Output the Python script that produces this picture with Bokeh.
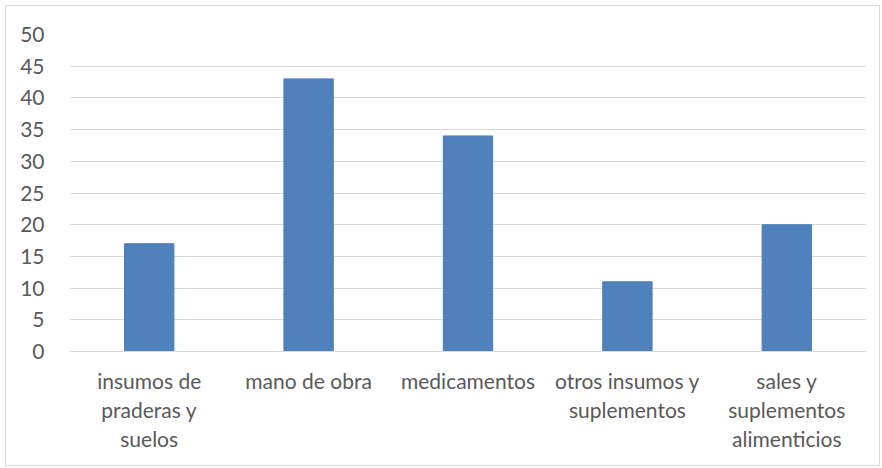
from bokeh.plotting import figure
from bokeh.models import Range1d, FactorRange, FixedTicker, CategoricalAxis, CustomJSTickFormatter
from bokeh.embed import file_html
from bokeh.resources import INLINE

categories = ["insumos de praderas y suelos", "mano de obra", "medicamentos",
              "otros insumos y suplementos", "sales y suplementos alimenticios"]
tick_lines = [["insumos de", "praderas y", "suelos"], ["mano de obra"], ["medicamentos"],
              ["otros insumos y", "suplementos"], ["sales y", "suplementos", "alimenticios"]]
values = [17, 43, 34, 11, 20]
y_ticks = [0, 5, 10, 15, 20, 25, 30, 35, 40, 45, 50]

FONT = "Lato"
FS = "21px"
GRAY = "#595959"

p = figure(width=875, height=461, output_backend="svg", toolbar_location=None,
           x_range=FactorRange(*categories, range_padding=0), y_range=Range1d(0, 50),
           min_border_left=63, min_border_right=15, min_border_top=28, min_border_bottom=116)
p.margin = (5, 0, 0, 5)
p.styles = {"border": "1px solid #d9d9d9"}
p.outline_line_color = None
p.background_fill_color = "white"
p.border_fill_color = "white"

p.vbar(x=categories, top=values, width=0.31, color="#4F81BD")

p.yaxis.ticker = FixedTicker(ticks=y_ticks)
p.yaxis.axis_line_color = None
p.yaxis.major_tick_line_color = None
p.yaxis.minor_tick_line_color = None
p.yaxis.major_label_text_font = FONT
p.yaxis.major_label_text_font_size = FS
p.yaxis.major_label_text_color = GRAY
p.yaxis.major_label_standoff = 19


def style_xaxis(ax, line_idx, standoff):
    ax.major_tick_line_color = None
    ax.minor_tick_line_color = None
    ax.major_tick_out = 0
    ax.major_tick_in = 0
    mapping = {c: (ls[line_idx] if line_idx < len(ls) else "") for c, ls in zip(categories, tick_lines)}
    ax.formatter = CustomJSTickFormatter(args=dict(m=mapping),
                                         code="const v = m[tick]; return v === undefined ? '' : v;")
    ax.major_label_text_font = FONT
    ax.major_label_text_font_size = FS
    ax.major_label_text_color = GRAY
    ax.major_label_standoff = standoff


xa = p.xaxis[0]
style_xaxis(xa, 0, 16)
xa.axis_line_color = "#d9d9d9"
xa.axis_line_width = 1

for k in (1, 2):
    ax = CategoricalAxis()
    style_xaxis(ax, k, 1)
    ax.axis_line_color = None
    p.add_layout(ax, "below")

p.xgrid.grid_line_color = None
p.ygrid.grid_line_color = "#d9d9d9"
p.ygrid.grid_line_width = 1

open("out.html", "w").write(file_html(p, INLINE))
